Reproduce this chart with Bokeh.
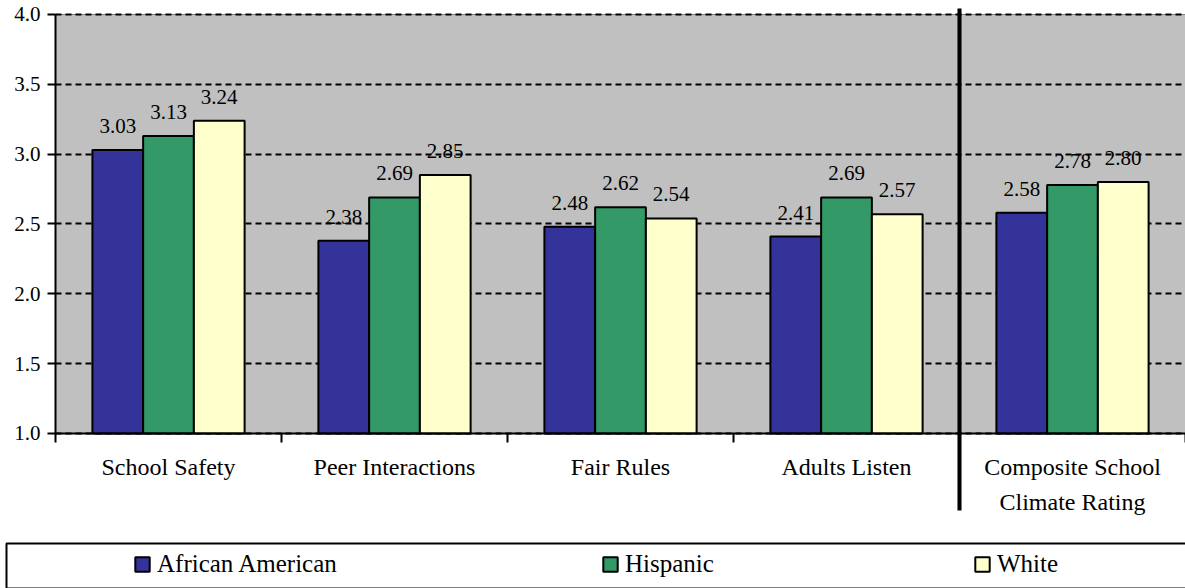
from bokeh.plotting import figure
from bokeh.models import (Range1d, FixedTicker, LegendItem, Legend, BoxAnnotation,
                          ColumnDataSource, PrintfTickFormatter)
from bokeh.core.properties import value
from bokeh.embed import file_html
from bokeh.resources import INLINE

# ---- data ----
categories = ["School Safety", "Peer Interactions", "Fair Rules", "Adults Listen",
              "Composite School\nClimate Rating"]
series_names = ["African American", "Hispanic", "White"]
african_american = [3.03, 2.38, 2.48, 2.41, 2.58]
hispanic = [3.13, 2.69, 2.62, 2.69, 2.78]
white = [3.24, 2.85, 2.54, 2.57, 2.80]
y_ticks = [1.0, 1.5, 2.0, 2.5, 3.0, 3.5, 4.0]

colors = ["#333399", "#339966", "#FFFFCC"]
FONT = "'Liberation Serif', 'Times New Roman', serif"
n = len(categories)

# frame covers the whole canvas; axes are pinned inside it
p = figure(width=1185, height=588,
           x_range=Range1d(-0.2434, n), y_range=Range1d(-0.1098, 4.1002),
           output_backend="svg", toolbar_location=None,
           min_border_left=0, min_border_right=0, min_border_top=0, min_border_bottom=0,
           background_fill_color="white", border_fill_color="white",
           outline_line_color=None)

# gray plot area
plot_area = BoxAnnotation(left=0, right=n, bottom=y_ticks[0], top=y_ticks[-1],
                          fill_color="#C0C0C0", fill_alpha=1.0,
                          line_color="#808080", line_alpha=1.0, line_width=1, level="image")
p.add_layout(plot_area)

bar_w = 0.2245
offsets = [-bar_w, 0.0, bar_w]
centers = [i + 0.5 for i in range(n)]

renderers = []
for vals, off, col in zip([african_american, hispanic, white], offsets, colors):
    src = ColumnDataSource(dict(x=[c + off for c in centers], top=vals,
                                label=[f"{v:.2f}" for v in vals]))
    r = p.vbar(x="x", top="top", bottom=y_ticks[0], width=bar_w, source=src,
               fill_color=col, line_color="black", line_width=2)
    p.text(x="x", y="top", text="label", source=src, text_align="center",
           text_baseline="alphabetic", y_offset=-24, text_font=value(FONT),
           text_font_size="21px", text_color="black")
    renderers.append(r)

# grid
p.xgrid.visible = False
p.ygrid.ticker = FixedTicker(ticks=y_ticks)
p.ygrid.grid_line_color = "black"
p.ygrid.grid_line_dash = "6 4"
p.ygrid.grid_line_width = 2
try:
    p.ygrid.cross_bounds = (0, n)
except Exception:
    cover = BoxAnnotation(right=0, fill_color="white", fill_alpha=1.0,
                          line_color=None, level="glyph")
    p.add_layout(cover)

# y axis
p.yaxis.fixed_location = 0
p.yaxis.bounds = (y_ticks[0], y_ticks[-1])
p.yaxis.ticker = FixedTicker(ticks=y_ticks)
p.yaxis.formatter = PrintfTickFormatter(format="%.1f")
p.yaxis.axis_line_width = 2
p.yaxis.axis_line_color = "black"
p.yaxis.major_tick_line_width = 2
p.yaxis.major_tick_line_color = "black"
p.yaxis.major_tick_out = 8
p.yaxis.major_tick_in = 0
p.yaxis.minor_tick_line_color = None
p.yaxis.major_label_text_font = FONT
p.yaxis.major_label_text_font_size = "21px"
p.yaxis.major_label_text_color = "black"
p.yaxis.major_label_standoff = 7

# x axis
p.xaxis.fixed_location = y_ticks[0]
p.xaxis.bounds = (0, n)
p.xaxis.ticker = FixedTicker(ticks=centers, minor_ticks=list(range(n + 1)))
p.xaxis.major_label_overrides = {c: cat for c, cat in zip(centers, categories)}
p.xaxis.major_tick_line_color = None
p.xaxis.major_tick_out = 9
p.xaxis.major_tick_in = 0
p.xaxis.minor_tick_line_color = "black"
p.xaxis.minor_tick_line_width = 2
p.xaxis.minor_tick_out = 9
p.xaxis.minor_tick_in = 0
p.xaxis.axis_line_width = 2
p.xaxis.axis_line_color = "black"
p.xaxis.major_label_standoff = 12
p.xaxis.major_label_text_font = FONT
p.xaxis.major_label_text_font_size = "24px"
p.xaxis.major_label_text_color = "black"
p.xaxis.major_label_text_line_height = 1.33

# thick separator line before the composite group
sep = BoxAnnotation(left=n - 1 - 0.009, right=n - 1 + 0.009, top=8, bottom=510,
                    top_units="canvas", bottom_units="canvas",
                    fill_color="black", fill_alpha=1.0, line_color=None, level="overlay")
p.add_layout(sep)

# legend frame
legbox = BoxAnnotation(left=6, right=1195, top=543, bottom=588,
                       left_units="canvas", right_units="canvas",
                       top_units="canvas", bottom_units="canvas",
                       fill_color=None, line_color="black", line_alpha=1.0, line_width=2,
                       level="annotation")
p.add_layout(legbox)

for r, name, vx in zip(renderers, series_names, [133, 601, 973]):
    leg = Legend(items=[LegendItem(label=name, renderers=[r])], location=(vx, 10),
                 orientation="horizontal", border_line_color=None,
                 background_fill_alpha=0, padding=0, margin=0,
                 glyph_width=18, glyph_height=18, label_standoff=6,
                 label_text_font=FONT, label_text_font_size="25px",
                 label_text_color="black")
    p.add_layout(leg)

open("out.html", "w").write(file_html(p, INLINE))
